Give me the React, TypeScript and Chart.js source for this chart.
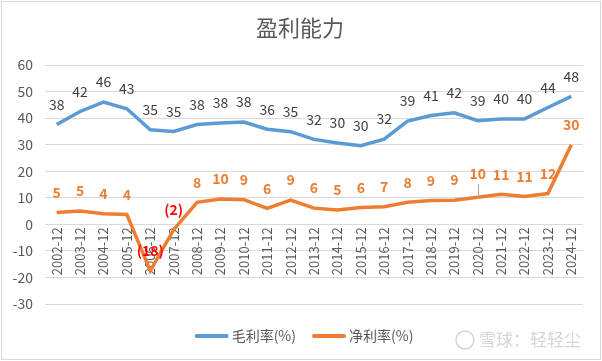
import React, { useEffect, useRef } from "react";
import { Chart, registerables } from "chart.js";

Chart.register(...registerables);

const TITLE = "盈利能力";
const WATERMARK = "雪球：轻轻尘";
const categories = [
  "2002-12", "2003-12", "2004-12", "2005-12", "2006-12", "2007-12", "2008-12", "2009-12",
  "2010-12", "2011-12", "2012-12", "2013-12", "2014-12", "2015-12", "2016-12", "2017-12",
  "2018-12", "2019-12", "2020-12", "2021-12", "2022-12", "2023-12", "2024-12",
];
const grossMargin = [
  37.6, 42.5, 46, 43.5, 35.6, 35, 37.6, 38.2, 38.5, 35.8, 34.9, 32, 30.6, 29.6, 32.1, 38.9,
  41, 42, 39, 39.7, 39.7, 44, 48.2,
];
const grossLabels = [
  "38", "42", "46", "43", "35", "35", "38", "38", "38", "36", "35", "32", "30", "30", "32", "39",
  "41", "42", "39", "40", "40", "44", "48",
];
const netMargin = [
  4.5, 5, 4, 3.7, -17.5, -2, 8.3, 9.5, 9.3, 6, 9.1, 6.1, 5.4, 6.3, 6.6, 8.3, 9, 9.1, 10.2,
  11.3, 10.5, 11.6, 30,
];
const netLabels = [
  "5", "5", "4", "4", "(18)", "(2)", "8", "10", "9", "6", "9", "6", "5", "6", "7", "8", "9", "9",
  "10", "11", "11", "12", "30",
];
const seriesNames = ["毛利率(%)", "净利率(%)"];
const yTicks = { min: -30, max: 60, step: 10 };

const BLUE = "#5B9BD5";
const ORANGE = "#ED7D31";
const FONT = "'Noto Sans CJK SC', 'Noto Sans', sans-serif";

const decorPlugin = {
  id: "decor",
  beforeDraw(chart: any) {
    const ctx = chart.ctx;
    ctx.save();
    ctx.fillStyle = "#ffffff";
    ctx.fillRect(0, 0, chart.width, chart.height);
    ctx.strokeStyle = "#d9d9d9";
    ctx.lineWidth = 1;
    ctx.strokeRect(1.5, 1.5, chart.width - 3, chart.height - 3);
    ctx.fillStyle = "#595959";
    ctx.font = `22px ${FONT}`;
    ctx.textAlign = "center";
    ctx.textBaseline = "middle";
    ctx.fillText(TITLE, 300, 28);
    ctx.restore();
  },
  afterDatasetsDraw(chart: any) {
    const ctx = chart.ctx;
    ctx.save();
    ctx.textAlign = "center";
    ctx.textBaseline = "middle";
    const labelSets = [grossLabels, netLabels];
    chart.data.datasets.forEach((ds: any, di: number) => {
      const meta = chart.getDatasetMeta(di);
      meta.data.forEach((pt: any, i: number) => {
        const text = labelSets[di][i];
        let dy = 20;
        if (di === 0) {
          ctx.font = `14px ${FONT}`;
          ctx.fillStyle = "#404040";
        } else {
          ctx.font = `bold 14px ${FONT}`;
          ctx.fillStyle = ds.data[i] < 0 ? "#FF0000" : ORANGE;
          if (categories[i] === "2020-12") {
            dy = 24;
            ctx.save();
            ctx.strokeStyle = "#a6a6a6";
            ctx.lineWidth = 1;
            ctx.beginPath();
            ctx.moveTo(Math.round(pt.x) + 0.5, pt.y - 13);
            ctx.lineTo(Math.round(pt.x) + 0.5, pt.y - 2);
            ctx.stroke();
            ctx.restore();
          }
        }
        ctx.fillText(text, pt.x, pt.y - dy);
      });
    });
    ctx.restore();
  },
  afterDraw(chart: any) {
    const ctx = chart.ctx;
    ctx.save();
    const colors = [BLUE, ORANGE];
    ctx.font = `14px ${FONT}`;
    ctx.textBaseline = "middle";
    ctx.textAlign = "left";
    const lineLen = 34;
    const gap = 3;
    const itemGap = 16;
    const widths = seriesNames.map((n) => lineLen + gap + ctx.measureText(n).width);
    const total = widths.reduce((a, b) => a + b, 0) + itemGap * (seriesNames.length - 1);
    let x = 304 - total / 2;
    const y = 336;
    seriesNames.forEach((n, i) => {
      ctx.strokeStyle = colors[i];
      ctx.lineWidth = 4;
      ctx.lineCap = "round";
      ctx.beginPath();
      ctx.moveTo(x + 2, y);
      ctx.lineTo(x + lineLen - 2, y);
      ctx.stroke();
      ctx.fillStyle = "#595959";
      ctx.fillText(n, x + lineLen + gap, y);
      x += widths[i] + itemGap;
    });
    // watermark
    ctx.strokeStyle = "#d6d6d6";
    ctx.lineWidth = 1.5;
    ctx.beginPath();
    ctx.arc(465, 340, 9, 0, Math.PI * 2);
    ctx.stroke();
    ctx.fillStyle = "#d6d6d6";
    ctx.font = `17px ${FONT}`;
    ctx.fillText(WATERMARK, 479, 340);
    ctx.restore();
  },
};

export default function App() {
  const ref = useRef<HTMLCanvasElement>(null);
  useEffect(() => {
    if (!ref.current) return;
    const chart = new Chart(ref.current, {
      type: "line",
      data: {
        labels: categories,
        datasets: [
          {
            label: seriesNames[0],
            data: grossMargin,
            borderColor: BLUE,
            backgroundColor: BLUE,
            borderWidth: 3.5,
            pointRadius: 0,
            tension: 0,
          },
          {
            label: seriesNames[1],
            data: netMargin,
            borderColor: ORANGE,
            backgroundColor: ORANGE,
            borderWidth: 3.5,
            pointRadius: 0,
            tension: 0,
          },
        ],
      },
      options: {
        responsive: false,
        animation: false,
        devicePixelRatio: 1,
        layout: { padding: { top: 65, bottom: 57, left: 0, right: 19 } },
        plugins: {
          legend: { display: false },
          title: { display: false },
          tooltip: { enabled: false },
        },
        scales: {
          x: {
            type: "category",
            position: { y: 0 } as any,
            offset: true,
            grid: { display: false, drawTicks: false },
            border: { display: false },
            ticks: {
              minRotation: 90,
              maxRotation: 90,
              autoSkip: false,
              padding: 3,
              color: "#595959",
              font: { size: 13, family: FONT },
            },
          },
          y: {
            min: yTicks.min,
            max: yTicks.max,
            afterFit(scale: any) {
              scale.width = 45;
            },
            ticks: {
              stepSize: yTicks.step,
              padding: 12,
              color: "#595959",
              font: { size: 14, family: FONT },
            },
            grid: { color: "#d9d9d9", lineWidth: 1, drawTicks: false },
            border: { display: false },
          },
        },
      },
      plugins: [decorPlugin],
    });
    return () => chart.destroy();
  }, []);
  return (
    <div style={{ position: "absolute", left: 0, top: 0, width: 602, height: 361 }}>
      <canvas ref={ref} width={602} height={361} style={{ display: "block" }} />
    </div>
  );
}
